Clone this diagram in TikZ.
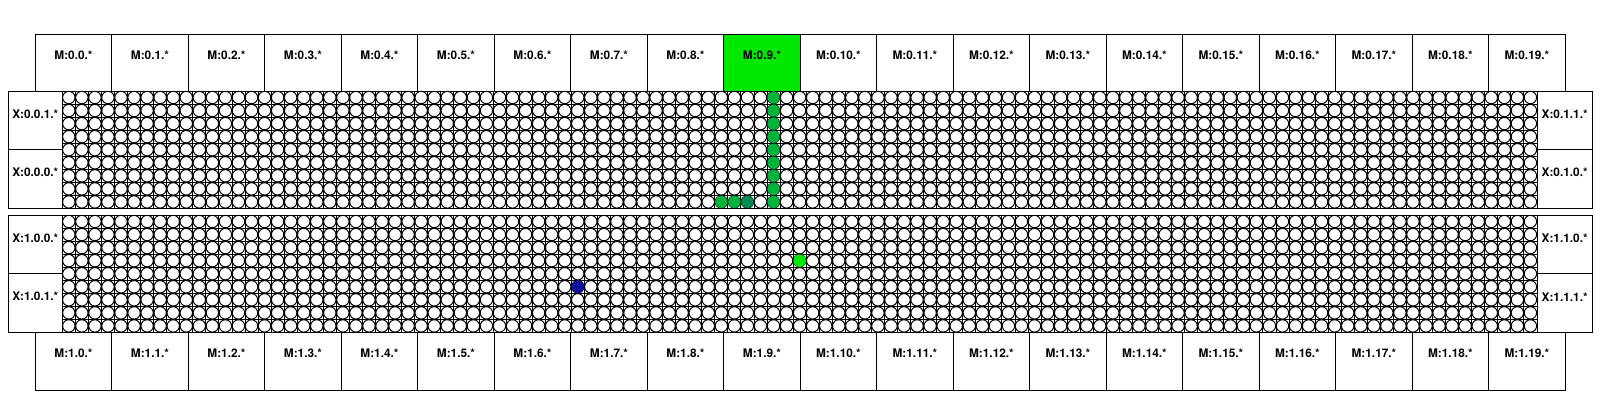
\documentclass[tikz,border=0pt]{standalone}
\usepackage{fontspec}
\setmainfont{TeX Gyre Heros}
\usepackage{tikz}
\usetikzlibrary{positioning}
\definecolor{hotgreen}{HTML}{00E800}
\definecolor{pathgreen}{HTML}{00B33C}
\definecolor{deepgreen}{HTML}{008A50}
\definecolor{dotblue}{HTML}{0A0F9C}

\begin{document}
\begin{tikzpicture}[x=0.025cm,y=-0.025cm,every node/.style={font=\fontsize{8.4}{10}\selectfont\bfseries,inner sep=0pt}]
  \useasboundingbox (0,0) rectangle (1600,400);

  % Memory rows
  \fill[hotgreen] (723.7,34.3) rectangle (800.2,91);
  \foreach \i in {0,...,19}{
    \draw[line width=0.7pt] (35.2+76.5*\i,34.3) rectangle (111.7+76.5*\i,91);
    \node (mtop\i) at (73.45+76.5*\i,55) {M:0.\i.*};
    \draw[line width=0.7pt] (35.2+76.5*\i,332.45) rectangle (111.7+76.5*\i,390);
    \node (mbot\i) at (73.45+76.5*\i,353.2) {M:1.\i.*};
  }

  % Core grids
  \foreach \py in {91,215}{
    \foreach \c in {0,...,113}
      \draw[line width=0.6pt] (62.3+13.05*\c,\py) -- (62.3+13.05*\c,\py+117.45);
    \foreach \r in {0,...,9}
      \draw[line width=0.6pt] (62.3,\py+13.05*\r) -- (1537,\py+13.05*\r);
    \foreach \r in {0,...,8}
      \foreach \c in {0,...,112}
        \filldraw[fill=white, line width=0.7pt] (68.825+13.05*\c,\py+6.525+13.05*\r) circle (4.4pt);
    % frame and X ports
    \draw[line width=0.7pt] (8.3,\py) rectangle (1592.3,\py+117.45);
    \draw[line width=0.7pt] (62.3,\py) -- (62.3,\py+117.45) (1537,\py) -- (1537,\py+117.45);
    \draw[line width=0.7pt] (8.3,\py+58.7) -- (62.3,\py+58.7) (1537,\py+58.7) -- (1592.3,\py+58.7);
  }

  % X ports
  \node (x001) at (35.3,114) {X:0.0.1.*};
  \node (x000) at (35.3,172.7) {X:0.0.0.*};
  \node (x011) at (1564.65,114) {X:0.1.1.*};
  \node (x010) at (1564.65,172.7) {X:0.1.0.*};
  \node (x100) at (35.3,238) {X:1.0.0.*};
  \node (x101) at (35.3,296.7) {X:1.0.1.*};
  \node (x110) at (1564.65,238) {X:1.1.0.*};
  \node (x111) at (1564.65,296.7) {X:1.1.1.*};

  % Active cores
  \foreach \r in {0,...,8}
    \fill[pathgreen] (773.5,97.525+13.05*\r) circle (4.4pt);
  \foreach \x in {721.3,734.4}
    \fill[pathgreen] (\x,201.925) circle (4.4pt);
  \fill[deepgreen] (747.4,201.925) circle (4.4pt);
  \fill[hotgreen] (799.6,260.7) circle (4.5pt);
  \fill[dotblue] (577.8,286.8) circle (4.5pt);
\end{tikzpicture}
\end{document}
